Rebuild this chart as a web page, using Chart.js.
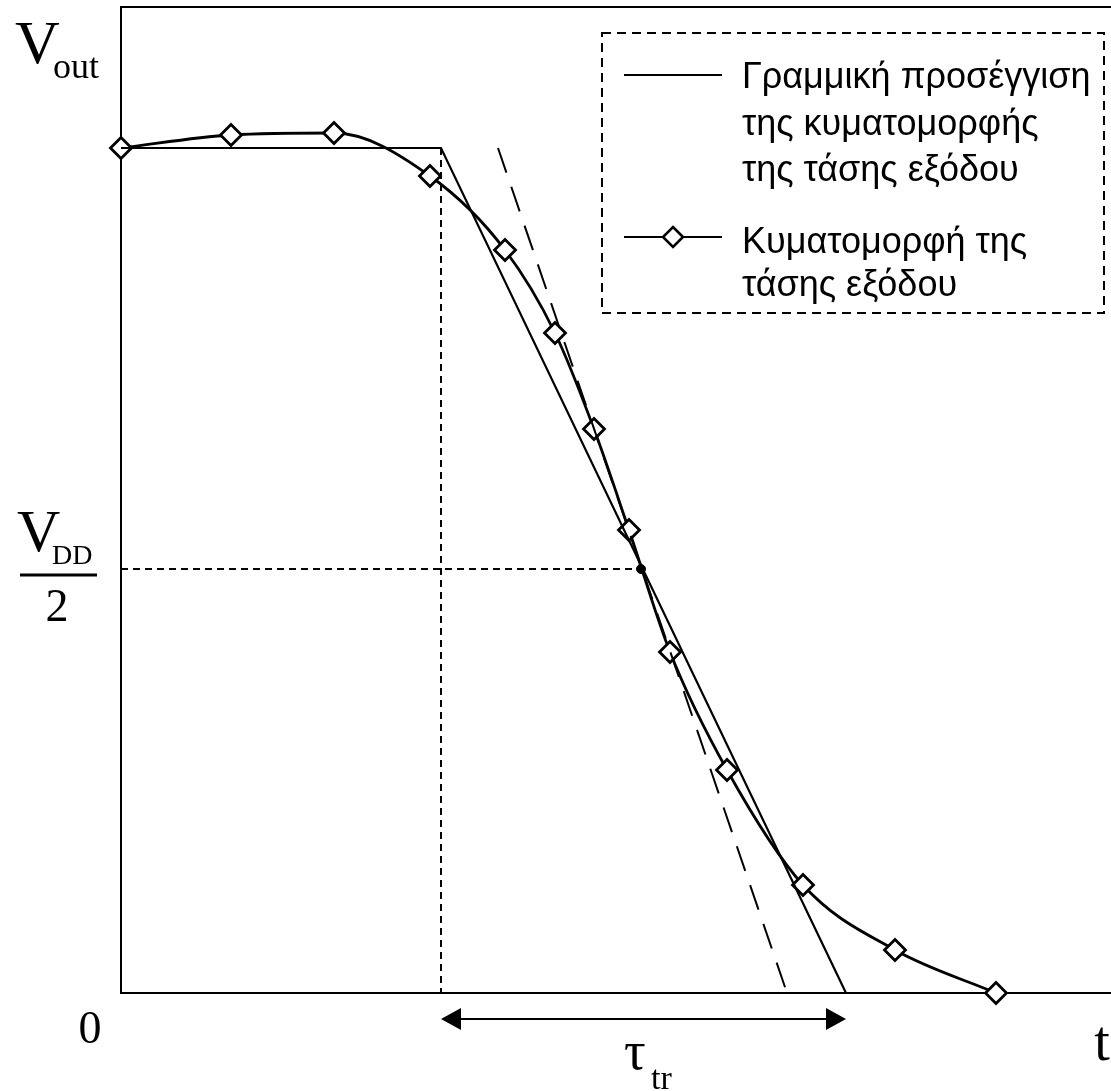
<!DOCTYPE html>
<html>
<head>
<meta charset="utf-8">
<title>Vout</title>
<script src="https://cdn.jsdelivr.net/npm/chart.js@4.4.1/dist/chart.umd.min.js"></script>
<style>
    html, body { margin: 0; padding: 0; background: #fff; overflow: hidden; }
    #wrap { width: 1111px; height: 1091px; position: relative; }
    #waveChart { display: block; }
</style>
</head>
<body>
<div id="wrap"><canvas id="waveChart"></canvas></div>
<script>
// τιμές διαβασμένες από το σχήμα (μονάδες αυθαίρετες)
const waveX = [0, 1.10, 2.13, 3.09, 3.84, 4.34, 4.73, 5.08, 5.49, 6.06, 6.82, 7.74, 8.75];
const waveY = [8.45, 8.58, 8.60, 8.17, 7.43, 6.60, 5.64, 4.63, 3.41, 2.23, 1.08, 0.43, 0];

const linearX = [0, 3.20, 7.25];
const linearY = [8.45, 8.45, 0];

const tangentX = [3.77, 6.66];
const tangentY = [8.45, 0];

const midPoint = { x: 5.20, y: 4.24 };
const tauStart = 3.20;
const tauEnd = 7.25;

const legendLabels = [
    ['Γραμμική προσέγγιση', 'της κυματομορφής', 'της τάσης εξόδου'],
    ['Κυματομορφή της', 'τάσης εξόδου']
];

function pts(xs, ys) {
    return xs.map((x, i) => ({ x: x, y: ys[i] }));
}

// άξονες + πλαίσιο πάνω
const framePlugin = {
    id: 'frame',
    beforeDatasetsDraw(chart) {
        const { ctx, chartArea: a } = chart;
        ctx.save();
        ctx.strokeStyle = '#000';
        ctx.lineWidth = 2;
        ctx.beginPath();
        ctx.moveTo(a.right, a.top);
        ctx.lineTo(a.left, a.top);
        ctx.lineTo(a.left, a.bottom);
        ctx.lineTo(a.right, a.bottom);
        ctx.stroke();
        ctx.restore();
    }
};

// ετικέτες, βέλος τ_tr, υπόμνημα
const labelsPlugin = {
    id: 'labels',
    afterDatasetsDraw(chart) {
        const { ctx, chartArea: a } = chart;
        const xs = chart.scales.x, ys = chart.scales.y;
        const y0 = ys.getPixelForValue(0);
        ctx.save();
        ctx.fillStyle = '#000';
        ctx.strokeStyle = '#000';
        ctx.textBaseline = 'alphabetic';
        const serif = '"Liberation Serif", "Times New Roman", serif';

        // V_out
        ctx.textAlign = 'left';
        ctx.font = '62px ' + serif;
        ctx.fillText('V', 15, 63);
        ctx.font = '36px ' + serif;
        ctx.fillText('out', 53, 78);

        // V_DD / 2
        const ym = ys.getPixelForValue(midPoint.y);
        ctx.font = '60px ' + serif;
        ctx.fillText('V', 17, ym - 18);
        ctx.font = '28px ' + serif;
        ctx.fillText('DD', 52, ym - 5);
        ctx.lineWidth = 3;
        ctx.beginPath();
        ctx.moveTo(20, ym + 6);
        ctx.lineTo(97, ym + 6);
        ctx.stroke();
        ctx.textAlign = 'center';
        ctx.font = '46px ' + serif;
        ctx.fillText('2', 57, ym + 52);

        // 0 και t
        ctx.fillText('0', 90, y0 + 50);
        ctx.font = '56px ' + serif;
        ctx.fillText('t', a.right - 9, y0 + 67);

        // βέλος τ_tr
        const x1 = xs.getPixelForValue(tauStart), x2 = xs.getPixelForValue(tauEnd);
        const ya = y0 + 26;
        ctx.lineWidth = 2;
        ctx.beginPath();
        ctx.moveTo(x1 + 10, ya);
        ctx.lineTo(x2 - 10, ya);
        ctx.stroke();
        ctx.beginPath();
        ctx.moveTo(x1, ya);
        ctx.lineTo(x1 + 20, ya - 11);
        ctx.lineTo(x1 + 20, ya + 11);
        ctx.closePath();
        ctx.moveTo(x2, ya);
        ctx.lineTo(x2 - 20, ya - 11);
        ctx.lineTo(x2 - 20, ya + 11);
        ctx.closePath();
        ctx.fill();
        ctx.font = '54px ' + serif;
        ctx.textAlign = 'left';
        ctx.fillText('τ', 624, 1069);
        ctx.font = '34px ' + serif;
        ctx.fillText('tr', 651, 1089);

        // υπόμνημα
        ctx.lineWidth = 2;
        ctx.setLineDash([9, 6]);
        ctx.strokeRect(602, 33, 502, 280);
        ctx.setLineDash([]);
        const sans = '"Liberation Sans", Arial, sans-serif';
        ctx.font = '36px ' + sans;
        const rows = [[75, 122, 168], [240, 283]];
        const sampleY = [75, 237];
        legendLabels.forEach((lines, i) => {
            lines.forEach((t, j) => ctx.fillText(t, 742, rows[i][j] + 13));
            ctx.beginPath();
            ctx.moveTo(624, sampleY[i]);
            ctx.lineTo(722, sampleY[i]);
            ctx.stroke();
        });
        // ρόμβος στο δείγμα
        const cx = 673, cy = sampleY[1], r = 10;
        ctx.fillStyle = '#fff';
        ctx.lineWidth = 2.6;
        ctx.beginPath();
        ctx.moveTo(cx, cy - r);
        ctx.lineTo(cx + r, cy);
        ctx.lineTo(cx, cy + r);
        ctx.lineTo(cx - r, cy);
        ctx.closePath();
        ctx.fill();
        ctx.stroke();
        ctx.restore();
    }
};

const ctx = document.getElementById('waveChart').getContext('2d');
new Chart(ctx, {
    type: 'scatter',
    data: {
        datasets: [
            {
                label: 'guides',
                data: [{ x: 0, y: midPoint.y }, { x: midPoint.x, y: midPoint.y }, { x: NaN, y: NaN },
                       { x: tauStart, y: linearY[1] }, { x: tauStart, y: 0 }],
                showLine: true,
                spanGaps: false,
                borderColor: '#000',
                borderWidth: 2,
                borderDash: [7, 5],
                pointRadius: 0
            },
            {
                label: 'tangent',
                data: pts(tangentX, tangentY),
                showLine: true,
                borderColor: '#000',
                borderWidth: 2,
                borderDash: [26, 15],
                pointRadius: 0
            },
            {
                label: 'Γραμμική προσέγγιση της κυματομορφής της τάσης εξόδου',
                data: pts(linearX, linearY),
                showLine: true,
                borderColor: '#000',
                borderWidth: 2.2,
                pointRadius: 0
            },
            {
                label: 'Κυματομορφή της τάσης εξόδου',
                data: pts(waveX, waveY),
                showLine: true,
                cubicInterpolationMode: 'monotone',
                borderColor: '#000',
                borderWidth: 2.8,
                pointStyle: 'rectRot',
                pointRadius: 10.5,
                pointBorderWidth: 2.8,
                pointBackgroundColor: '#fff',
                pointBorderColor: '#000'
            },
            {
                label: 'mid',
                data: [midPoint],
                pointRadius: 4.5,
                pointBackgroundColor: '#000',
                pointBorderColor: '#000'
            }
        ]
    },
    options: {
        responsive: true,
        maintainAspectRatio: false,
        animation: false,
        clip: false,
        layout: { autoPadding: false, padding: { left: 121, top: 7, right: 0, bottom: 98 } },
        plugins: {
            legend: { display: false },
            tooltip: { enabled: false }
        },
        scales: {
            x: { type: 'linear', min: 0, max: 9.9, display: false },
            y: { type: 'linear', min: 0, max: 9.86, display: false }
        }
    },
    plugins: [framePlugin, labelsPlugin]
});
</script>
</body>
</html>
